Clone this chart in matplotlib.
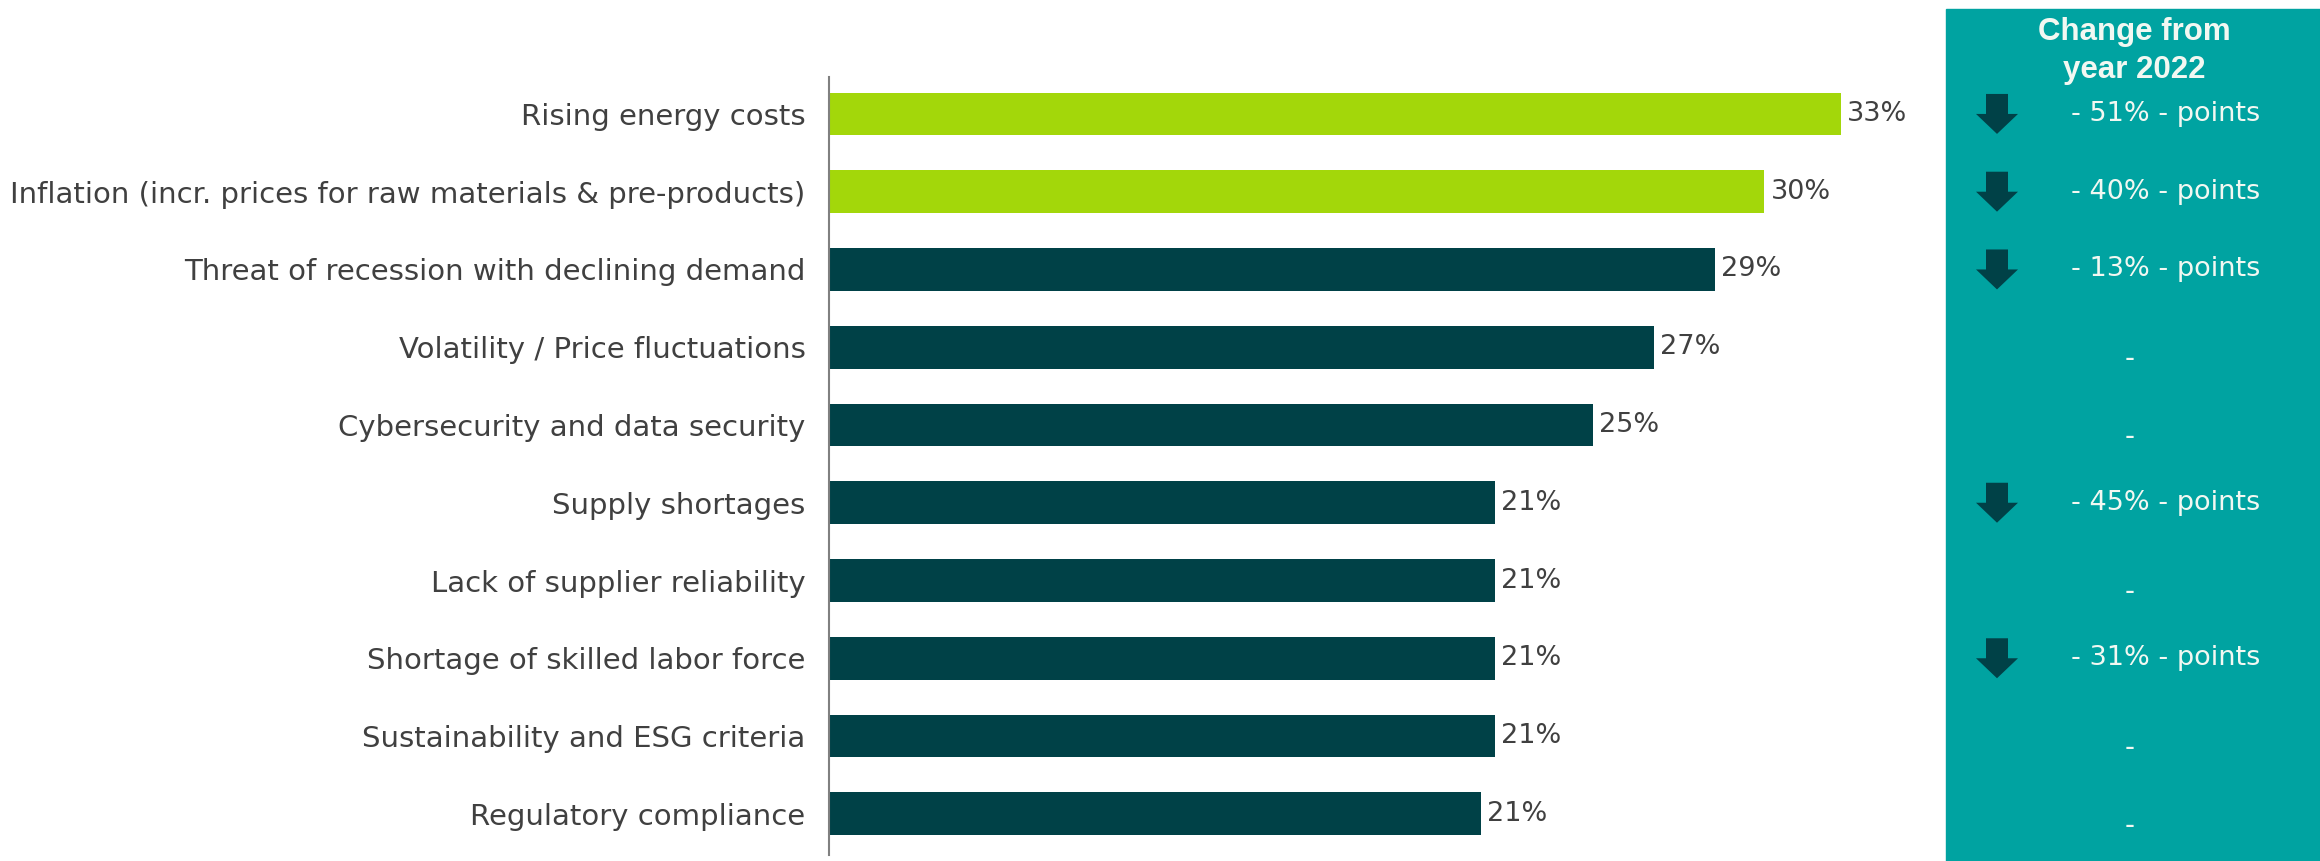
import matplotlib
matplotlib.use("Agg")
import matplotlib.pyplot as plt
from matplotlib import font_manager
from matplotlib.patches import Rectangle, Polygon
import matplotlib.transforms as mtransforms

categories = [
    "Rising energy costs",
    "Inflation (incr. prices for raw materials & pre-products)",
    "Threat of recession with declining demand",
    "Volatility / Price fluctuations",
    "Cybersecurity and data security",
    "Supply shortages",
    "Lack of supplier reliability",
    "Shortage of skilled labor force",
    "Sustainability and ESG criteria",
    "Regulatory compliance",
]
values = [33.0, 30.5, 28.9, 26.9, 24.9, 21.7, 21.7, 21.7, 21.7, 21.25]
value_labels = ["33%", "30%", "29%", "27%", "25%", "21%", "21%", "21%", "21%", "21%"]
highlight = [True, True, False, False, False, False, False, False, False, False]
change_2022 = [-51, -40, -13, None, None, -45, None, -31, None, None]

GREEN = "#A3D70A"
DARK = "#004147"
TEAL = "#00A3A1"
TXT = "#404040"
WHITE = "#F2F8F2"

installed = {f.name for f in font_manager.fontManager.ttflist}
label_font = "Liberation Sans Narrow" if "Liberation Sans Narrow" in installed else "DejaVu Sans"
head_font = "Liberation Sans" if "Liberation Sans" in installed else "DejaVu Sans"

W, H = 2320, 861
fig = plt.figure(figsize=(W / 100, H / 100), dpi=100)
ax = fig.add_axes([829 / W, 1 - 855 / H, (1940 - 829) / W, (855 - 77) / H])

y = list(range(len(categories)))
colors = [GREEN if h else DARK for h in highlight]
ax.barh(y, values, height=0.55, color=colors)
for yi, v, lab in zip(y, values, value_labels):
    ax.text(v + 0.2, yi, lab, ha="left", va="center", fontsize=19.5,
            family=label_font, color=TXT)

ax.set_xlim(0, 1111 / 30.67)
ax.set_ylim(9.53, -0.475)
ax.set_yticks(y)
ax.set_yticklabels(categories, fontsize=21, family=label_font, color=TXT)
ax.tick_params(axis="y", length=0, pad=17)
ax.set_xticks([])
for s in ["top", "right", "bottom"]:
    ax.spines[s].set_visible(False)
ax.spines["left"].set_color("#808080")
ax.spines["left"].set_linewidth(1.5)

# right-hand panel: change from 2022
fig.patches.append(Rectangle((1946 / W, 0), 1 - 1946 / W, 1 - 9 / H,
                             transform=fig.transFigure, color=TEAL, zorder=0))
fig.text(2134 / W, 1 - 32 / H, "Change from", ha="center", va="center",
         fontsize=22.5, fontweight="bold", family=head_font, color=WHITE)
fig.text(2134 / W, 1 - 70 / H, "year 2022", ha="center", va="center",
         fontsize=22.5, fontweight="bold", family=head_font, color=WHITE)

trans = mtransforms.blended_transform_factory(fig.transFigure, ax.transData)
py = 77.8  # pixels per row
for yi, c in zip(y, change_2022):
    if c is None:
        fig.text(2130 / W, yi + 12 / py, "-", ha="center", va="center",
                 fontsize=20, family=label_font, color=WHITE,
                 transform=trans)
        continue
    cx = 1997
    pts = [
        ((cx - 11) / W, yi - 20 / py),
        ((cx + 11) / W, yi - 20 / py),
        ((cx + 11) / W, yi),
        ((cx + 21) / W, yi),
        (cx / W, yi + 20 / py),
        ((cx - 21) / W, yi),
        ((cx - 11) / W, yi),
    ]
    fig.patches.append(Polygon(pts, closed=True, transform=trans,
                               facecolor=DARK, edgecolor="none"))
    fig.text(2166 / W, yi, f"- {abs(c)}% - points", ha="center", va="center",
             fontsize=19.5, family=label_font, color=WHITE, transform=trans)

fig.savefig("out.png", dpi=100, facecolor="white")
